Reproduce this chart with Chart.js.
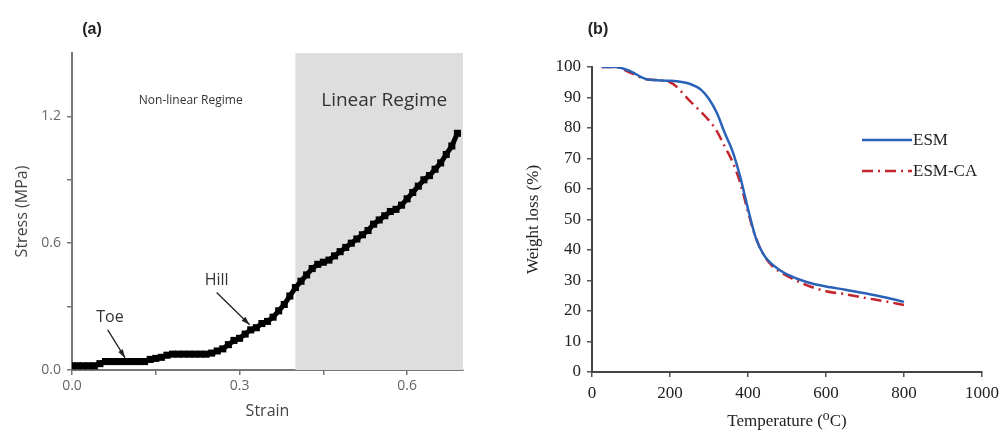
<!DOCTYPE html>
<html>
<head>
<meta charset="utf-8">
<script src="https://cdn.jsdelivr.net/npm/chart.js@4.4.1/dist/chart.umd.min.js"></script>
<style>
  html, body { margin: 0; padding: 0; background: #fff; }
  .panel { position: absolute; top: 0; height: 432px; }
  #boxA { left: 0; width: 500px; }
  #boxB { left: 500px; width: 505px; }
</style>
</head>
<body>
<div class="panel" id="boxA"><canvas id="stressChart"></canvas></div>
<div class="panel" id="boxB"><canvas id="tgaChart"></canvas></div>
<script>
// (a) stress-strain
const strain = [0.00, 0.01, 0.02, 0.03, 0.04, 0.05, 0.06, 0.07, 0.08, 0.09,
                0.10, 0.11, 0.12, 0.13, 0.14, 0.15, 0.16, 0.17, 0.18, 0.19,
                0.20, 0.21, 0.22, 0.23, 0.24, 0.25, 0.26, 0.27, 0.28, 0.29,
                0.30, 0.31, 0.32, 0.33, 0.34, 0.35, 0.36, 0.37, 0.38, 0.39,
                0.40, 0.41, 0.42, 0.43, 0.44, 0.45, 0.46, 0.47, 0.48, 0.49,
                0.50, 0.51, 0.52, 0.53, 0.54, 0.55, 0.56, 0.57, 0.58, 0.59,
                0.60, 0.61, 0.62, 0.63, 0.64, 0.65, 0.66, 0.67, 0.68, 0.69];
const stress = [0.02, 0.02, 0.02, 0.02, 0.02, 0.03, 0.04, 0.04, 0.04, 0.04,
                0.04, 0.04, 0.04, 0.04, 0.05, 0.055, 0.06, 0.07, 0.075, 0.075,
                0.075, 0.075, 0.075, 0.075, 0.075, 0.08, 0.09, 0.10, 0.12, 0.14,
                0.15, 0.17, 0.19, 0.20, 0.22, 0.23, 0.25, 0.28, 0.31, 0.35,
                0.39, 0.42, 0.45, 0.48, 0.50, 0.51, 0.52, 0.54, 0.56, 0.58,
                0.60, 0.62, 0.64, 0.66, 0.69, 0.71, 0.73, 0.75, 0.76, 0.78,
                0.81, 0.84, 0.87, 0.90, 0.92, 0.95, 0.98, 1.02, 1.06, 1.12];
const strainTicks = [0, 0.15, 0.3, 0.45, 0.6];
const strainTickLabels = ['0.0', '', '0.3', '', '0.6'];
const stressTicks = [0, 0.3, 0.6, 0.9, 1.2];
const stressTickLabels = ['0.0', '', '0.6', '', '1.2'];
const linearRegime = [0.4, 0.7];

// (b) TGA
const temps = [25, 60, 100, 140, 200, 250, 280, 300, 320, 340, 360, 380, 400,
               420, 440, 460, 480, 500, 550, 600, 650, 700, 750, 800];
const esm = [100, 100, 98.5, 96, 95.5, 94.5, 92.5, 89.5, 85, 78.5, 72.5, 64, 53.5,
             44, 38.5, 35.5, 33.5, 32, 29.5, 28, 27, 25.8, 24.5, 23];
const esmCa = [100, 100, 98, 96, 95, 89, 85.2, 82.5, 79, 74, 69, 62, 52.5,
               44, 38.5, 35, 33, 31.5, 28.5, 26.5, 25.5, 24.3, 23.2, 22];
const seriesNames = ['ESM', 'ESM-CA'];

const sans = "'Open Sans', 'Noto Sans', sans-serif";
const serif = "'Liberation Serif', 'DejaVu Serif', serif";

function fixedTicks(values) {
  return function(scale) { scale.ticks = values.map(v => ({ value: v })); };
}

function arrow(ctx, x1, y1, x2, y2) {
  ctx.beginPath();
  ctx.moveTo(x1, y1);
  ctx.lineTo(x2, y2);
  ctx.stroke();
  const a = Math.atan2(y2 - y1, x2 - x1);
  ctx.beginPath();
  ctx.moveTo(x2, y2);
  ctx.lineTo(x2 - 9 * Math.cos(a - 0.3), y2 - 9 * Math.sin(a - 0.3));
  ctx.lineTo(x2 - 9 * Math.cos(a + 0.3), y2 - 9 * Math.sin(a + 0.3));
  ctx.closePath();
  ctx.fill();
}

const regimePlugin = {
  id: 'regime',
  beforeDatasetsDraw(chart) {
    const { ctx, scales: { x, y } } = chart;
    ctx.save();
    ctx.fillStyle = '#dedede';
    const x1 = x.getPixelForValue(linearRegime[0]);
    const x2 = x.getPixelForValue(linearRegime[1]);
    ctx.fillRect(x1, y.getPixelForValue(y.max), x2 - x1, y.getPixelForValue(0) - y.getPixelForValue(y.max));
    ctx.restore();
  },
  afterDraw(chart) {
    const { ctx, scales: { x, y } } = chart;
    ctx.save();
    ctx.textAlign = 'center';
    ctx.textBaseline = 'middle';
    ctx.fillStyle = '#222';
    ctx.font = "bold 16px 'Liberation Sans', Arial, sans-serif";
    ctx.fillText('(a)', 92, 30);
    ctx.fillStyle = '#333';
    ctx.font = '12px ' + sans;
    ctx.fillText('Non-linear Regime', x.getPixelForValue(0.2125), y.getPixelForValue(1.276));
    ctx.font = '19px ' + sans;
    ctx.fillText('Linear Regime', x.getPixelForValue(0.559), y.getPixelForValue(1.276));
    ctx.font = '16px ' + sans;
    ctx.fillText('Toe', x.getPixelForValue(0.068), y.getPixelForValue(0.248));
    ctx.fillText('Hill', x.getPixelForValue(0.259), y.getPixelForValue(0.424));
    ctx.strokeStyle = '#222';
    ctx.fillStyle = '#222';
    ctx.lineWidth = 1.3;
    arrow(ctx, x.getPixelForValue(0.064), y.getPixelForValue(0.19), x.getPixelForValue(0.095), y.getPixelForValue(0.057));
    arrow(ctx, x.getPixelForValue(0.259), y.getPixelForValue(0.367), x.getPixelForValue(0.318), y.getPixelForValue(0.214));
    ctx.restore();
  }
};

new Chart(document.getElementById('stressChart'), {
  type: 'scatter',
  data: {
    datasets: [{
      data: strain.map((s, i) => ({ x: s, y: stress[i] })),
      showLine: true,
      borderColor: '#000',
      borderWidth: 5,
      pointStyle: 'rect',
      pointRadius: 5,
      backgroundColor: '#000',
      pointBorderWidth: 0
    }]
  },
  options: {
    animation: false,
    responsive: true,
    maintainAspectRatio: false,
    layout: { padding: { left: 0, top: 53, right: 37, bottom: 0 } },
    plugins: { legend: { display: false }, tooltip: { enabled: false } },
    scales: {
      x: {
        type: 'linear', min: 0, max: 0.7,
        afterBuildTicks: fixedTicks(strainTicks),
        afterFit: s => { s.height = 62; },
        grid: { drawOnChartArea: false, tickLength: 5, color: '#777', lineWidth: 1.5 },
        border: { color: '#777', width: 2 },
        ticks: {
          autoSkip: false, padding: 3, color: '#666', font: { family: sans, size: 14 },
          callback: (v, i) => strainTickLabels[i]
        },
        title: { display: true, text: 'Strain', color: '#444', font: { family: sans, size: 16 }, padding: { top: 0, bottom: 11 } }
      },
      y: {
        type: 'linear', min: 0, max: 1.5,
        afterBuildTicks: fixedTicks(stressTicks),
        afterFit: s => { s.width = 72; },
        grid: { drawOnChartArea: false, tickLength: 5, color: '#777', lineWidth: 1.5 },
        border: { color: '#777', width: 2 },
        ticks: {
          autoSkip: false, padding: 6, color: '#666', font: { family: sans, size: 14 },
          callback: (v, i) => stressTickLabels[i]
        },
        title: { display: true, text: 'Stress (MPa)', color: '#444', font: { family: sans, size: 16 }, padding: { top: 13, bottom: 0 } }
      }
    }
  },
  plugins: [regimePlugin]
});

const legendPlugin = {
  id: 'tgaLegend',
  afterDraw(chart) {
    const { ctx } = chart;
    ctx.save();
    ctx.fillStyle = '#222';
    ctx.textAlign = 'center';
    ctx.textBaseline = 'middle';
    ctx.font = "bold 16px 'Liberation Sans', Arial, sans-serif";
    ctx.fillText('(b)', 98, 30);
    ctx.textAlign = 'left';
    ctx.font = '17px ' + serif;
    chart.data.datasets.forEach((ds, i) => {
      const yy = 140 + i * 31;
      ctx.strokeStyle = ds.borderColor;
      ctx.lineWidth = 2.5;
      ctx.setLineDash(ds.borderDash || []);
      ctx.beginPath();
      ctx.moveTo(362, yy);
      ctx.lineTo(412, yy);
      ctx.stroke();
      ctx.setLineDash([]);
      ctx.fillStyle = '#222';
      ctx.fillText(ds.label, 413, yy + 1);
    });
    ctx.restore();
  }
};

new Chart(document.getElementById('tgaChart'), {
  type: 'line',
  data: {
    datasets: [
      {
        label: seriesNames[0],
        data: temps.map((t, i) => ({ x: t, y: esm[i] })),
        borderColor: '#2a62b8', borderWidth: 2.5, pointRadius: 0,
        cubicInterpolationMode: 'monotone'
      },
      {
        label: seriesNames[1],
        data: temps.map((t, i) => ({ x: t, y: esmCa[i] })),
        borderColor: '#c4262e', borderWidth: 2.5, pointRadius: 0,
        borderDash: [11, 5, 2, 5],
        cubicInterpolationMode: 'monotone'
      }
    ]
  },
  options: {
    animation: false,
    responsive: true,
    maintainAspectRatio: false,
    layout: { padding: { left: 0, top: 67, right: 19, bottom: 0 } },
    plugins: { legend: { display: false }, tooltip: { enabled: false } },
    scales: {
      x: {
        type: 'linear', min: 0, max: 1000,
        ticks: { stepSize: 200, padding: 6, color: '#222', font: { family: serif, size: 17 }, callback: v => String(v) },
        afterFit: s => { s.height = 60; },
        grid: { drawOnChartArea: false, tickLength: 5, color: '#555', lineWidth: 1.5 },
        border: { color: '#444', width: 2 },
        title: { display: true, text: 'Temperature (⁰C)', color: '#222', font: { family: serif, size: 17 }, padding: { top: 0, bottom: 0 } }
      },
      y: {
        type: 'linear', min: 0, max: 100,
        ticks: { stepSize: 10, padding: 6, color: '#222', font: { family: serif, size: 17 }, callback: v => String(v) },
        afterFit: s => { s.width = 92; },
        grid: { drawOnChartArea: false, tickLength: 5, color: '#555', lineWidth: 1.5 },
        border: { color: '#444', width: 2 },
        title: { display: true, text: 'Weight loss (%)', color: '#222', font: { family: serif, size: 17 }, padding: { top: 23, bottom: 0 } }
      }
    }
  },
  plugins: [legendPlugin]
});
</script>
</body>
</html>
